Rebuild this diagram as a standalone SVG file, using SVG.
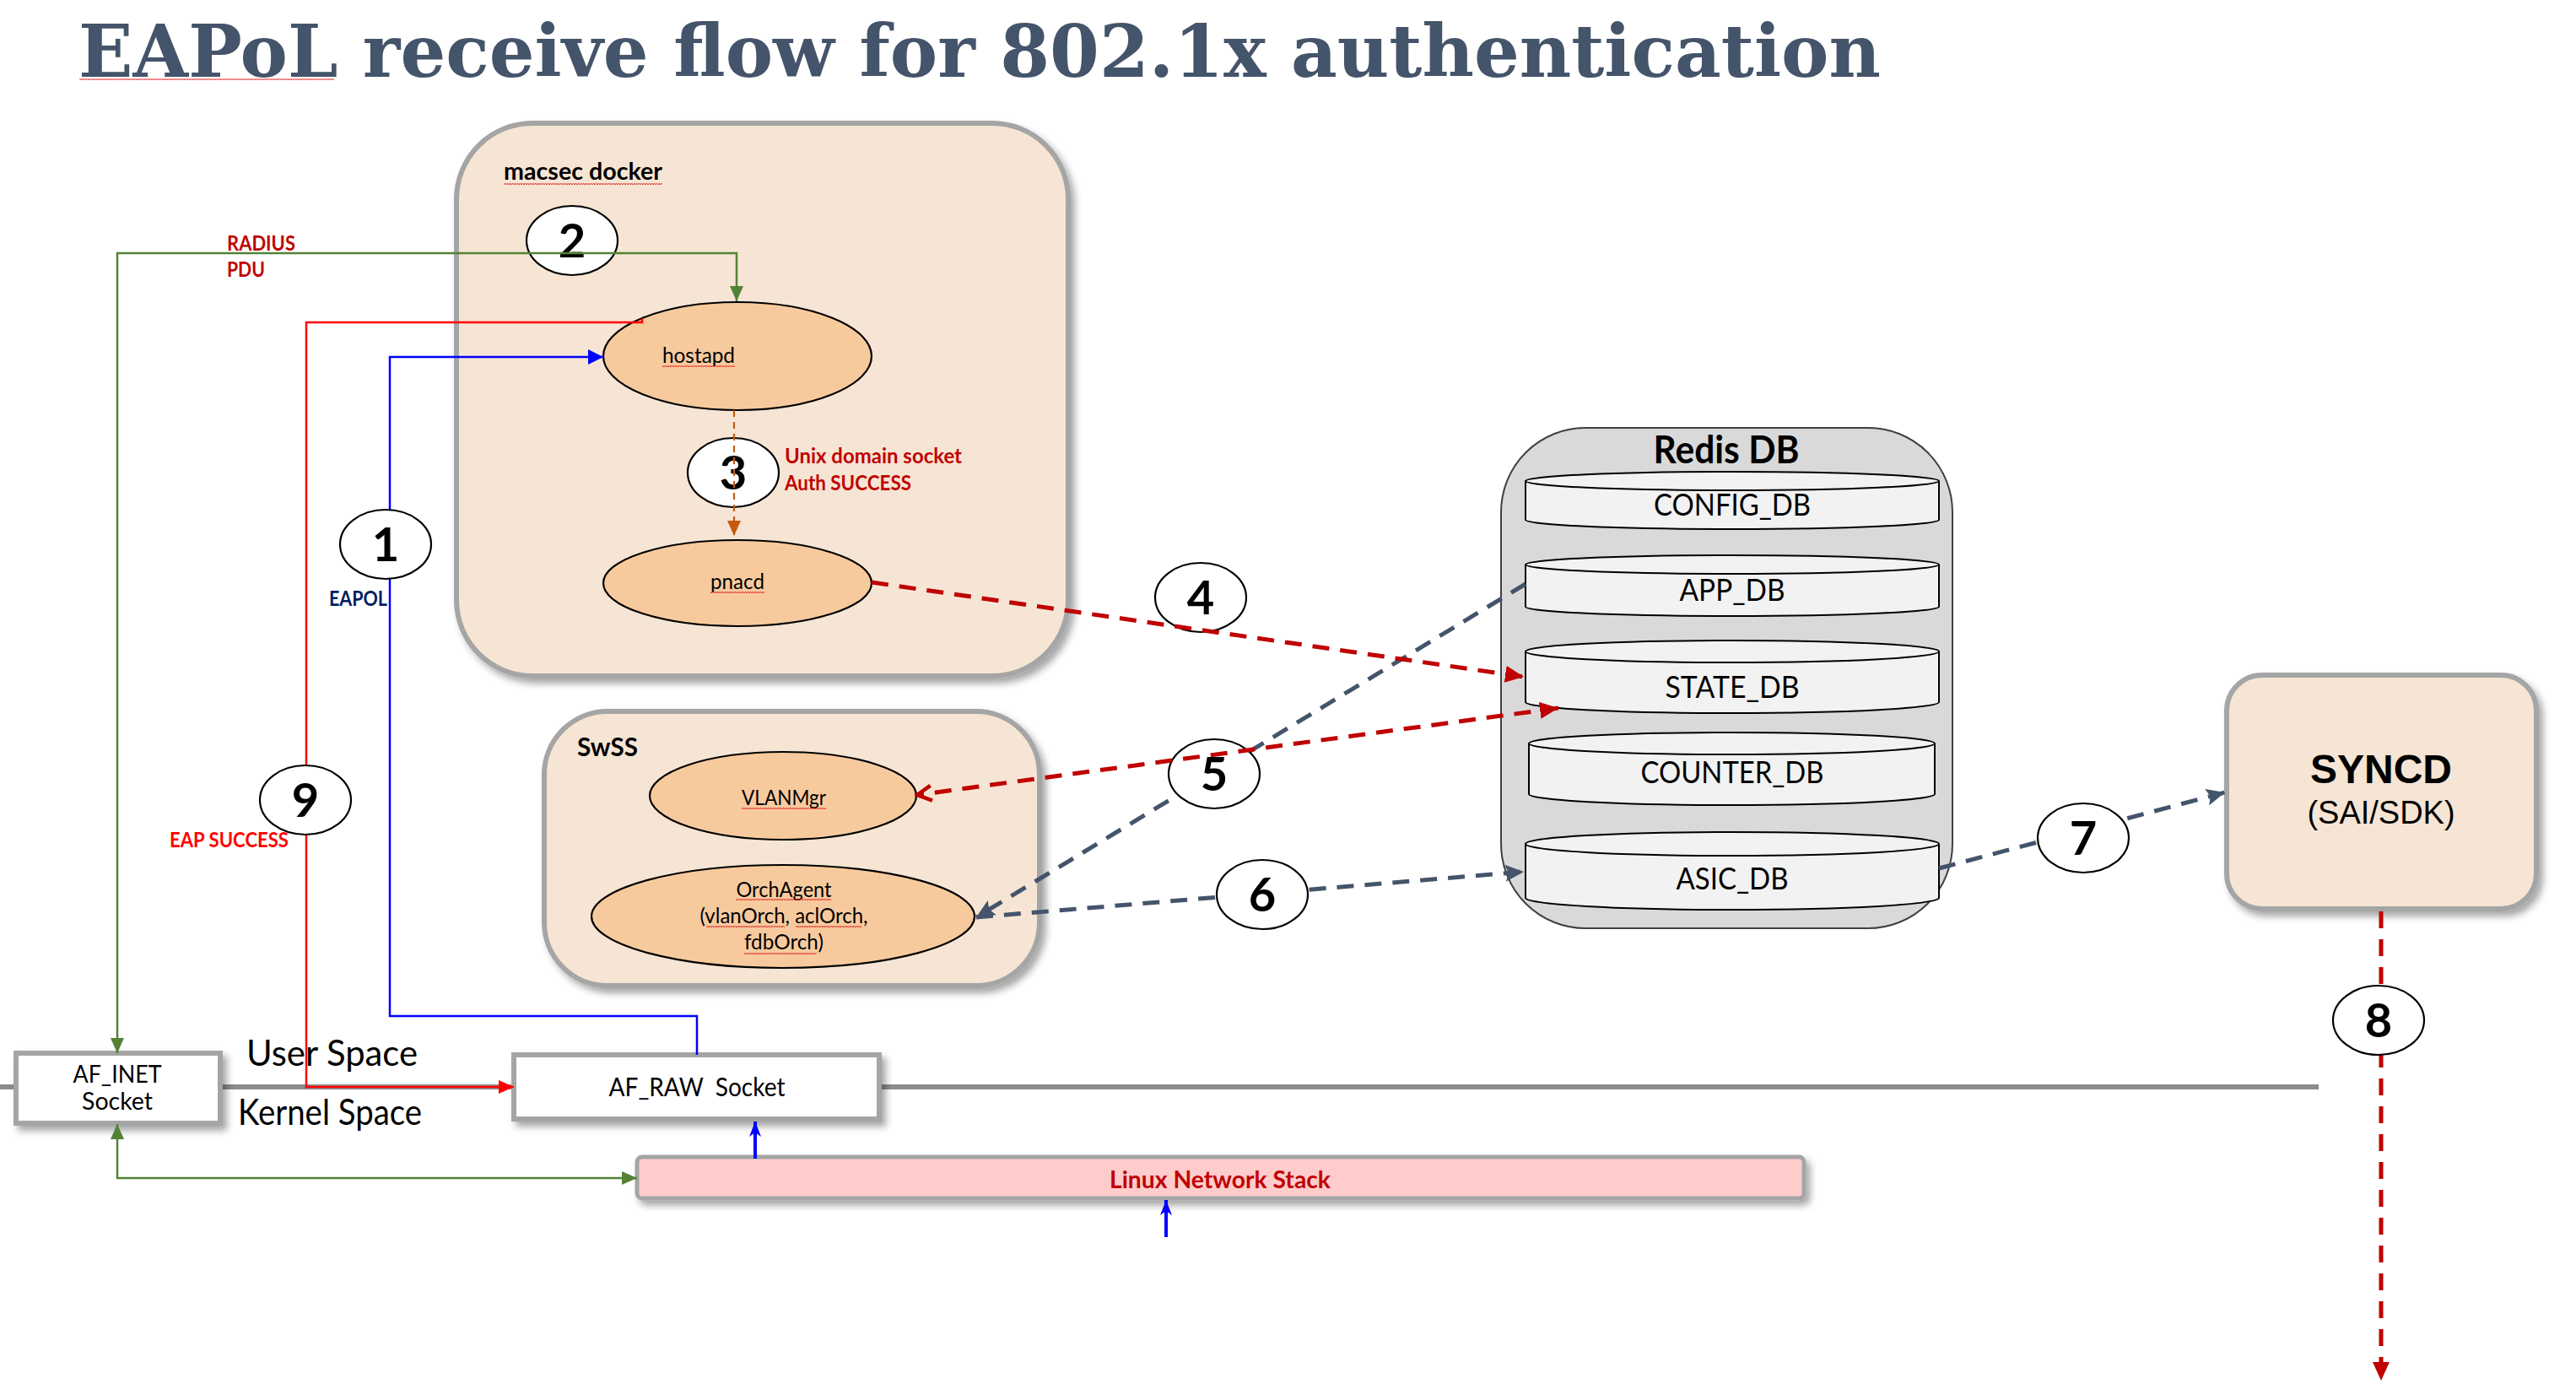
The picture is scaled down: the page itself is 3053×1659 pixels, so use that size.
<svg xmlns="http://www.w3.org/2000/svg" width="3053" height="1659" viewBox="0 0 3053 1659">
<style>
.box{fill:#F6E5D4;stroke:#A5A5A5;stroke-width:6}
.sock{fill:#FFFFFF;stroke:#A5A5A5;stroke-width:6}
.proc{fill:#F7CA9E;stroke:#000;stroke-width:2.2}
.cyl{fill:#F2F2F2;stroke:#000;stroke-width:2}
.badge{fill:#FFFFFF;stroke:#000;stroke-width:2.2}
.num{font-family:Lato,"Liberation Sans",sans-serif;font-weight:bold;font-size:56px;fill:#000;text-anchor:middle}
.lbl{font-family:Lato,"Liberation Sans",sans-serif;font-size:25px;fill:#000}
.lblb{font-family:Lato,"Liberation Sans",sans-serif;font-size:25px;font-weight:bold}
.db{font-family:Lato,"Liberation Sans",sans-serif;font-size:37px;fill:#000;text-anchor:middle}
.mid{text-anchor:middle}
.thin{fill:none;stroke-width:2.5}
.dash{fill:none;stroke-width:5;stroke-dasharray:20 13}
</style>
<defs>
<filter id="sh" x="-10%" y="-10%" width="130%" height="140%">
<feDropShadow dx="5" dy="6" stdDeviation="4" flood-color="#000" flood-opacity="0.35"/>
</filter>
<pattern id="squig" width="6" height="4" patternUnits="userSpaceOnUse">
<path d="M0,3 L1.5,1 L3,3 L4.5,1 L6,3" fill="none" stroke="#E02020" stroke-width="0.9"/>
</pattern>
<marker id="mGreen" viewBox="0 0 18 16" refX="18" refY="8" markerWidth="18" markerHeight="16" markerUnits="userSpaceOnUse" orient="auto-start-reverse"><path d="M0,0 L18,8 L0,16 z" fill="#548235"/></marker>
<marker id="mBlue" viewBox="0 0 18 18" refX="18" refY="9" markerWidth="18" markerHeight="18" markerUnits="userSpaceOnUse" orient="auto-start-reverse"><path d="M0,0 L18,9 L0,18 z" fill="#0000FF"/></marker>
<marker id="mBlueUp" viewBox="0 0 18 14" refX="18" refY="7" markerWidth="18" markerHeight="14" markerUnits="userSpaceOnUse" orient="auto"><path d="M0,0 L18,7 L0,14 L5,7 z" fill="#0000FF"/></marker>
<marker id="mRed" viewBox="0 0 18 16" refX="18" refY="8" markerWidth="18" markerHeight="16" markerUnits="userSpaceOnUse" orient="auto"><path d="M0,0 L18,8 L0,16 z" fill="#FF0000"/></marker>
<marker id="mOrange" viewBox="0 0 18 16" refX="18" refY="8" markerWidth="18" markerHeight="16" markerUnits="userSpaceOnUse" orient="auto"><path d="M0,0 L18,8 L0,16 z" fill="#C55A11"/></marker>
<marker id="mDred" viewBox="0 0 22 20" refX="22" refY="10" markerWidth="22" markerHeight="20" markerUnits="userSpaceOnUse" orient="auto-start-reverse"><path d="M0,0 L22,10 L0,20 z" fill="#C00000"/></marker>
<marker id="mChev" viewBox="0 0 24 24" refX="21" refY="12" markerWidth="24" markerHeight="24" markerUnits="userSpaceOnUse" orient="auto"><path d="M4,3 L21,12 L4,21" fill="none" stroke="#C00000" stroke-width="4.5"/></marker>
<marker id="mGray" viewBox="0 0 22 20" refX="22" refY="10" markerWidth="22" markerHeight="20" markerUnits="userSpaceOnUse" orient="auto"><path d="M0,0 L22,10 L0,20 L4,10 z" fill="#44546A"/></marker>
</defs>

<rect width="3053" height="1659" fill="#FFFFFF"/>

<g id="title">
<text x="93" y="91" font-family="'DejaVu Serif','Liberation Serif',serif" font-weight="bold" font-size="86" fill="#44546A" textLength="2136" lengthAdjust="spacingAndGlyphs">EAPoL receive flow for 802.1x authentication</text>
<rect x="94" y="92" width="302" height="4" fill="url(#squig)"/>
</g>

<g id="divider">
<line x1="0" y1="1288" x2="2748" y2="1288" stroke="#8C8C8C" stroke-width="6"/>
<text x="292" y="1263" class="lbl" style="font-size:42px" textLength="203" lengthAdjust="spacingAndGlyphs">User Space</text>
<text x="282" y="1333" class="lbl" style="font-size:42px" textLength="218" lengthAdjust="spacingAndGlyphs">Kernel Space</text>
</g>

<g id="macsec-docker">
<rect x="541" y="146" width="725" height="655" rx="90" ry="90" class="box" filter="url(#sh)"/>
<text x="597" y="213" class="lblb" style="font-size:29px" fill="#000" textLength="188" lengthAdjust="spacingAndGlyphs">macsec docker</text>
<rect x="597" y="215" width="188" height="4" fill="url(#squig)"/>
</g>

<g id="hostapd">
<ellipse cx="874" cy="422" rx="159" ry="64" class="proc"/>
<text x="785" y="430" class="lbl" textLength="86" lengthAdjust="spacingAndGlyphs">hostapd</text>
<rect x="785" y="433" width="86" height="4" fill="url(#squig)"/>
</g>

<g id="pnacd">
<ellipse cx="874" cy="691" rx="159" ry="51" class="proc"/>
<text x="842" y="698" class="lbl" textLength="64" lengthAdjust="spacingAndGlyphs">pnacd</text>
<rect x="842" y="701" width="64" height="4" fill="url(#squig)"/>
</g>

<g id="swss">
<rect x="645" y="843" width="587" height="325" rx="75" ry="75" class="box" filter="url(#sh)"/>
<text x="684" y="896" class="lblb" style="font-size:30px" fill="#000" textLength="72" lengthAdjust="spacingAndGlyphs">SwSS</text>
</g>

<g id="vlanmgr">
<ellipse cx="928" cy="943" rx="158" ry="52" class="proc"/>
<text x="929" y="954" class="lbl mid" textLength="100" lengthAdjust="spacingAndGlyphs">VLANMgr</text>
<rect x="879" y="956" width="100" height="4" fill="url(#squig)"/>
</g>

<g id="orchagent">
<ellipse cx="928" cy="1086" rx="227" ry="61" class="proc"/>
<text x="929" y="1063" class="lbl mid" textLength="113" lengthAdjust="spacingAndGlyphs">OrchAgent</text>
<text x="929" y="1094" class="lbl mid" textLength="199" lengthAdjust="spacingAndGlyphs">(vlanOrch, aclOrch,</text>
<text x="929" y="1125" class="lbl mid" textLength="94" lengthAdjust="spacingAndGlyphs">fdbOrch)</text>
<rect x="872" y="1065" width="113" height="4" fill="url(#squig)"/>
<rect x="837" y="1096" width="93" height="4" fill="url(#squig)"/>
<rect x="943" y="1096" width="78" height="4" fill="url(#squig)"/>
<rect x="882" y="1127" width="86" height="4" fill="url(#squig)"/>
</g>

<g id="redis-db">
<rect x="1779" y="507" width="535" height="593" rx="100" ry="100" fill="#D9D9D9" stroke="#404040" stroke-width="2"/>
<text x="2046" y="549" class="lblb mid" style="font-size:46px" fill="#000" textLength="173" lengthAdjust="spacingAndGlyphs">Redis DB</text>
</g>

<g id="config-db">
<path class="cyl" d="M1808,570 V616 A245,11 0 0 0 2298,616 V570"/>
<ellipse class="cyl" cx="2053" cy="570" rx="245" ry="11"/>
<text x="2053" y="611" class="db" textLength="186" lengthAdjust="spacingAndGlyphs">CONFIG_DB</text>
</g>
<g id="app-db">
<path class="cyl" d="M1808,669 V719 A245,11 0 0 0 2298,719 V669"/>
<ellipse class="cyl" cx="2053" cy="669" rx="245" ry="11"/>
<text x="2053" y="712" class="db" textLength="125" lengthAdjust="spacingAndGlyphs">APP_DB</text>
</g>
<g id="state-db">
<path class="cyl" d="M1808,772 V832 A245,13 0 0 0 2298,832 V772"/>
<ellipse class="cyl" cx="2053" cy="772" rx="245" ry="13"/>
<text x="2053" y="827" class="db" textLength="159" lengthAdjust="spacingAndGlyphs">STATE_DB</text>
</g>
<g id="counter-db">
<path class="cyl" d="M1812,881 V941 A240.5,13 0 0 0 2293,941 V881"/>
<ellipse class="cyl" cx="2052.5" cy="881" rx="240.5" ry="13"/>
<text x="2053" y="928" class="db" textLength="217" lengthAdjust="spacingAndGlyphs">COUNTER_DB</text>
</g>
<g id="asic-db">
<path class="cyl" d="M1808,1000 V1064 A245,14 0 0 0 2298,1064 V1000"/>
<ellipse class="cyl" cx="2053" cy="1000" rx="245" ry="14"/>
<text x="2053" y="1054" class="db" textLength="133" lengthAdjust="spacingAndGlyphs">ASIC_DB</text>
</g>

<g id="syncd">
<rect x="2639" y="800" width="367" height="277" rx="42" ry="42" class="box" filter="url(#sh)"/>
<text x="2822" y="928" font-family="'Liberation Sans',Arial,sans-serif" font-weight="bold" font-size="48" text-anchor="middle" fill="#000">SYNCD</text>
<text x="2822" y="976" font-family="'Liberation Sans',Arial,sans-serif" font-size="38" text-anchor="middle" fill="#000">(SAI/SDK)</text>
</g>

<g id="af-inet">
<rect x="19" y="1248" width="242" height="83" class="sock" filter="url(#sh)"/>
<text x="139" y="1283" class="lbl mid" style="font-size:29px" textLength="105" lengthAdjust="spacingAndGlyphs">AF_INET</text>
<text x="139" y="1315" class="lbl mid" style="font-size:29px" textLength="84" lengthAdjust="spacingAndGlyphs">Socket</text>
</g>

<g id="af-raw">
<rect x="609" y="1250" width="433" height="76" class="sock" filter="url(#sh)"/>
<text x="826" y="1299" class="lbl mid" style="font-size:30px" textLength="209" lengthAdjust="spacingAndGlyphs" xml:space="preserve">AF_RAW  Socket</text>
</g>

<g id="linux-network-stack">
<rect x="755" y="1371" width="1383" height="49" rx="6" ry="6" fill="#FFCCCC" stroke="#A5A5A5" stroke-width="5" filter="url(#sh)"/>
<text x="1446" y="1408" class="lblb mid" style="font-size:28px" fill="#C00000" textLength="262" lengthAdjust="spacingAndGlyphs">Linux Network Stack</text>
</g>

<g id="connectors">
<g id="behind-badges">
<path class="thin" stroke="#0000FF" d="M826,1250 V1204 H462 V423 H715" marker-end="url(#mBlue)"/>
<path class="thin" stroke="#FF0000" d="M761,377 V382 H363 V1288 H609" marker-end="url(#mRed)"/>
<path class="dash" stroke="#44546A" d="M1808,692 L1157,1087" marker-end="url(#mGray)"/>
<path class="dash" stroke="#44546A" d="M1157,1087 L1806,1033" marker-end="url(#mGray)"/>
<path class="dash" stroke="#44546A" d="M2298,1029 L2637,939" marker-end="url(#mGray)"/>
<path class="dash" stroke="#C00000" d="M2822,1080 V1636" marker-end="url(#mDred)"/>
<path fill="none" stroke="#0000FF" stroke-width="4" d="M895,1373 V1329" marker-end="url(#mBlueUp)"/>
<path fill="none" stroke="#0000FF" stroke-width="4" d="M1382,1466 V1422" marker-end="url(#mBlueUp)"/>
<path class="thin" stroke="#548235" stroke-width="2.2" d="M139,1332 V1396 H755" marker-start="url(#mGreen)" marker-end="url(#mGreen)"/>
</g>
<g id="step-badges">
<ellipse class="badge" cx="457" cy="645" rx="54" ry="41"/><text class="num" x="457" y="665">1</text>
<ellipse class="badge" cx="678" cy="285" rx="54" ry="41"/><text class="num" x="678" y="305">2</text>
<ellipse class="badge" cx="869" cy="560" rx="54" ry="41"/><text class="num" x="869" y="580">3</text>
<ellipse class="badge" cx="1423" cy="708" rx="54" ry="41"/><text class="num" x="1423" y="728">4</text>
<ellipse class="badge" cx="1439" cy="917" rx="54" ry="41"/><text class="num" x="1439" y="937">5</text>
<ellipse class="badge" cx="1496" cy="1060" rx="54" ry="41"/><text class="num" x="1496" y="1080">6</text>
<ellipse class="badge" cx="2469" cy="993" rx="54" ry="41"/><text class="num" x="2469" y="1013">7</text>
<ellipse class="badge" cx="2819" cy="1209" rx="54" ry="41"/><text class="num" x="2819" y="1229">8</text>
<ellipse class="badge" cx="362" cy="948" rx="54" ry="41"/><text class="num" x="362" y="968">9</text>
</g>
<g id="over-badges">
<path class="thin" stroke="#548235" stroke-width="2.2" d="M139,1248 V300 H873 V357" marker-start="url(#mGreen)" marker-end="url(#mGreen)"/>
<path fill="none" stroke="#C55A11" stroke-width="2.2" stroke-dasharray="8 6" d="M870,486 V635" marker-end="url(#mOrange)"/>
<path class="dash" stroke="#C00000" d="M1033,690 L1806,802" marker-end="url(#mDred)"/>
<path class="dash" stroke="#C00000" d="M1847,839 L1087,942" marker-start="url(#mDred)" marker-end="url(#mChev)"/>
</g>
<g id="connector-labels">
<text x="269" y="297" class="lblb" fill="#C00000" textLength="81" lengthAdjust="spacingAndGlyphs">RADIUS</text>
<text x="269" y="328" class="lblb" fill="#C00000" textLength="45" lengthAdjust="spacingAndGlyphs">PDU</text>
<text x="930" y="549" class="lblb" fill="#C00000" textLength="210" lengthAdjust="spacingAndGlyphs">Unix domain socket</text>
<text x="930" y="581" class="lblb" fill="#C00000" textLength="150" lengthAdjust="spacingAndGlyphs">Auth SUCCESS</text>
<text x="390" y="718" class="lblb" fill="#002060" textLength="69" lengthAdjust="spacingAndGlyphs">EAPOL</text>
<text x="201" y="1004" class="lblb" fill="#FF0000" textLength="141" lengthAdjust="spacingAndGlyphs">EAP SUCCESS</text>
</g>
</g>
</svg>
